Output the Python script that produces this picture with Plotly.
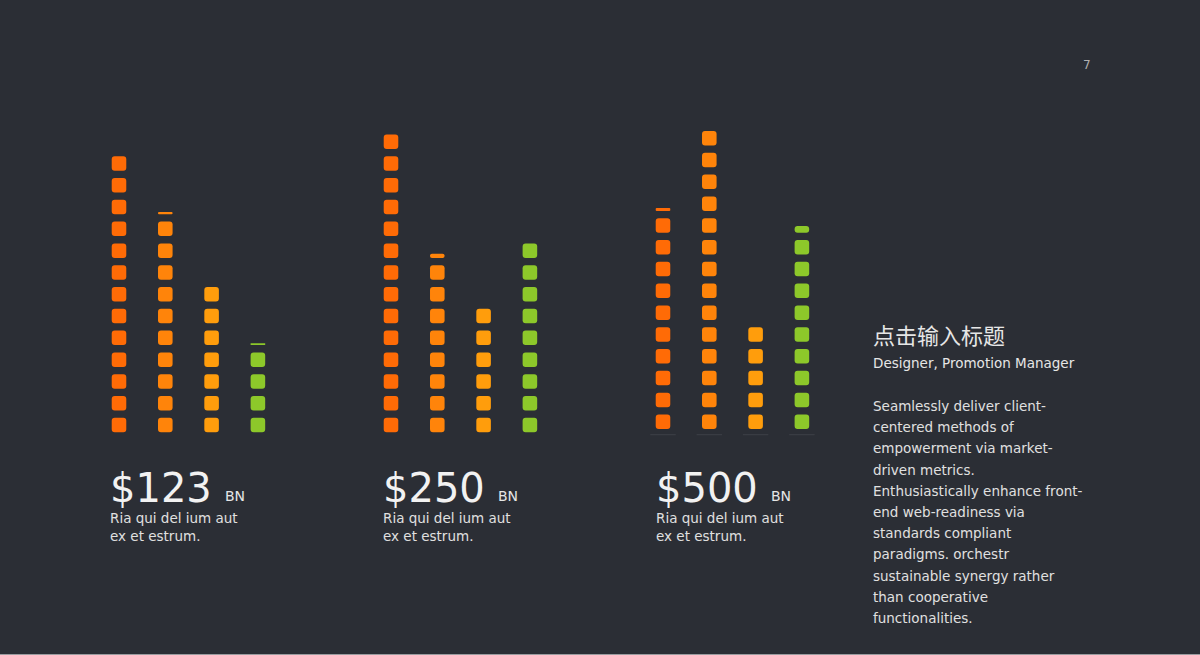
import math
import plotly.graph_objects as go

# ---------------- data ----------------
categories = ["A", "B", "C", "D"]
group_labels = ["$123", "$250", "$500"]
group_units = ["BN", "BN", "BN"]
group_captions = ["Ria qui del ium aut<br>ex et estrum."] * 3
values_g1 = [13, 10.27, 7, 4.25]
values_g2 = [14, 8.36, 6, 9]
values_g3 = [10.3, 14, 5, 9.48]
bar_colors = ["#FF6B06", "#FF840A", "#FF9D0C", "#8DC82A"]

title_text = "点击输入标题"
subtitle_text = "Designer, Promotion Manager"
paragraph_lines = [
    "Seamlessly deliver client-",
    "centered methods of",
    "empowerment via market-",
    "driven metrics.",
    "Enthusiastically enhance front-",
    "end web-readiness via",
    "standards compliant",
    "paradigms. orchestr",
    "sustainable synergy rather",
    "than cooperative",
    "functionalities.",
]
page_number = "7"

# ---------------- layout helpers ----------------
W, H = 1200, 655
BG = "#2B2E35"
GAP = 0.1675          # empty part of each unit slot (per side)
BAR_W = 0.315         # square width in category units
STEP_PX = 46.3
group_first_center_px = [119, 391, 663]
y_ranges = [[-10.05, 20.0], [-10.05, 20.0], [-10.2, 19.84]]

fig = go.Figure()
groups = [values_g1, values_g2, values_g3]

for gi, vals in enumerate(groups):
    xa = "x" if gi == 0 else f"x{gi+1}"
    ya = "y" if gi == 0 else f"y{gi+1}"
    for ci, v in enumerate(vals):
        xs, bases, hs = [], [], []
        for i in range(math.ceil(v)):
            start = i + GAP
            end = min(i + 1 - GAP, v)
            if end > start:
                xs.append(categories[ci])
                bases.append(start)
                hs.append(end - start)
        fig.add_trace(go.Bar(
            x=xs, y=hs, base=bases, width=BAR_W,
            marker=dict(color=bar_colors[ci], cornerradius=3, line_width=0),
            xaxis=xa, yaxis=ya, showlegend=False, hoverinfo="skip",
        ))
    if gi == 2:
        fig.add_trace(go.Bar(
            x=categories, y=[0.05] * 4, base=[-0.12] * 4, width=0.55,
            marker=dict(color="rgba(255,255,255,0.07)", line_width=0),
            xaxis=xa, yaxis=ya, showlegend=False, hoverinfo="skip",
        ))

layout_axes = {}
for gi in range(3):
    left = (group_first_center_px[gi] - STEP_PX / 2) / W
    right = left + 4 * STEP_PX / W
    xk = "xaxis" if gi == 0 else f"xaxis{gi+1}"
    yk = "yaxis" if gi == 0 else f"yaxis{gi+1}"
    layout_axes[xk] = dict(domain=[left, right], type="category",
                           categoryorder="array", categoryarray=categories,
                           range=[-0.5, 3.5], visible=False, fixedrange=True,
                           anchor="y" if gi == 0 else f"y{gi+1}")
    layout_axes[yk] = dict(domain=[0, 1], range=y_ranges[gi], visible=False,
                           fixedrange=True,
                           anchor="x" if gi == 0 else f"x{gi+1}")

fig.update_layout(
    width=W, height=H,
    margin=dict(l=0, r=0, t=0, b=0),
    paper_bgcolor=BG, plot_bgcolor="rgba(0,0,0,0)",
    barmode="overlay",
    font=dict(family="DejaVu Sans", color="#E6E6E6"),
    **layout_axes,
)

def px(x):
    return x / W

def py(y):
    return 1 - y / H

ann = []
label_left_px = [108, 381, 654]
unit_left_px = [223, 496, 769]
for gi in range(3):
    ann.append(dict(text=group_labels[gi], x=px(label_left_px[gi]), y=py(488),
                    xanchor="left", yanchor="middle",
                    font=dict(size=40, color="#F2F2F2")))
    ann.append(dict(text=group_units[gi], x=px(unit_left_px[gi]), y=py(496),
                    xanchor="left", yanchor="middle",
                    font=dict(size=14, color="#E6E6E6")))
    ann.append(dict(text=group_captions[gi], x=px(label_left_px[gi]), y=py(527),
                    xanchor="left", yanchor="middle", align="left",
                    font=dict(size=13.5, color="#E0E0E0")))

ann.append(dict(text=title_text, x=px(871), y=py(334), xanchor="left",
                yanchor="middle",
                font=dict(size=22, color="#E6E6E6",
                          family="Noto Sans CJK SC")))
ann.append(dict(text=subtitle_text, x=px(871), y=py(363), xanchor="left",
                yanchor="middle", font=dict(size=13.5, color="#E6E6E6")))
for li, line in enumerate(paragraph_lines):
    ann.append(dict(text=line, x=px(871), y=py(406 + li * 21.2),
                    xanchor="left", yanchor="middle",
                    font=dict(size=13.5, color="#E0E0E0")))
ann.append(dict(text=page_number, x=px(1087), y=py(65), xanchor="center",
                yanchor="middle", font=dict(size=12, color="#B0B0B0")))

for a in ann:
    a.update(xref="paper", yref="paper", showarrow=False)
fig.update_layout(annotations=ann)

fig.add_shape(type="line", xref="paper", yref="paper", x0=0, x1=1,
              y0=py(654.5), y1=py(654.5), line=dict(color="#9A9CA0", width=1))

fig.write_html(
    "out.html",
    config={"displayModeBar": False, "staticPlot": True},
    post_script="document.body.style.margin='0';document.body.style.padding='0';"
                "document.body.style.overflow='hidden';"
                "document.documentElement.style.overflow='hidden';",
)
